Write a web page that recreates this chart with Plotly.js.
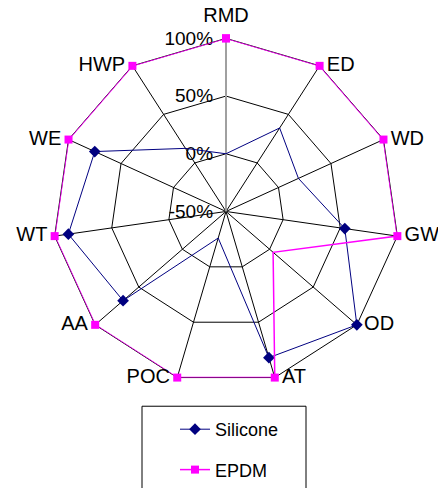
<!DOCTYPE html>
<html>
<head>
<meta charset="utf-8">
<script src="https://cdn.plot.ly/plotly-3.0.1.min.js"></script>
<style>html,body{margin:0;padding:0;background:#fff;}#chart{width:438px;height:488px;}</style>
</head>
<body>
<div id="chart"></div>
<script>
const categories = ["RMD", "ED", "WD", "GW", "OD", "AT", "POC", "AA", "WT", "WE", "HWP"];
const siliconeValues = [0, 36, 19, 54, 100, 82, -26, 68, 88, 75, 15];
const epdmValues = [100, 100, 100, 100, 4, 100, 100, 100, 100, 100, 100];
const radialTickVals = [-50, 0, 50, 100];
const radialTickText = ["-50%", "0%", "50%", "100%"];

function closeLoop(arr) { return arr.concat([arr[0]]); }

const W = 438, H = 488;
const cx = 226, cy = 215, R = 176;
const rMax = radialTickVals[radialTickVals.length - 1];
const labelPositions = ["top center", "middle right", "middle right", "middle right", "middle right",
  "middle right", "middle left", "middle left", "middle left", "middle left", "middle left"];
const labelOffsets = categories.map((c, i) => i === 0 ? 16 : 10);
const NBSP = "\u00a0";

const traces = [
  {
    type: "scatterpolar", mode: "lines+markers", name: "Silicone",
    r: closeLoop(siliconeValues), theta: closeLoop(categories),
    line: {color: "#000080", width: 1},
    marker: {symbol: "diamond", size: 9, color: "#000080"},
    legendgroup: "a", hoverinfo: "none"
  },
  {
    type: "scatterpolar", mode: "lines+markers", name: "EPDM",
    r: closeLoop(epdmValues), theta: closeLoop(categories),
    line: {color: "#ff00ff", width: 1.5},
    marker: {symbol: "square", size: 8, color: "#ff00ff"},
    legendgroup: "b", hoverinfo: "none"
  },
  {
    type: "scatterpolar", mode: "markers+text", showlegend: false, hoverinfo: "none",
    r: categories.map(() => rMax), theta: categories, text: categories,
    textposition: labelPositions,
    textfont: {family: "Liberation Sans, Arial, sans-serif", size: 20, color: "#000000"},
    marker: {size: labelOffsets, color: "rgba(0,0,0,0)", opacity: 0}, cliponaxis: false
  }
];

const layout = {
  width: W, height: H,
  margin: {l: 0, r: 0, t: 0, b: 0, pad: 0},
  paper_bgcolor: "#ffffff",
  font: {family: "Liberation Sans, Arial, sans-serif", size: 18, color: "#000000"},
  showlegend: true,
  legend: {
    x: 175 / W, xanchor: "left", y: 1 - 418 / H, yanchor: "top",
    borderwidth: 0, bgcolor: "rgba(0,0,0,0)",
    font: {size: 18}, tracegroupgap: 14
  },
  shapes: [{
    type: "rect", xref: "paper", yref: "paper",
    x0: 142 / W, x1: 306 / W, y0: -0.1, y1: 1 - 413 / H,
    line: {color: "#000000", width: 1}, fillcolor: "rgba(0,0,0,0)", layer: "below"
  }],
  polar: {
    domain: {x: [(cx - R) / W, (cx + R) / W], y: [1 - (cy + R) / H, 1 - (cy - R) / H]},
    bgcolor: "#ffffff",
    gridshape: "linear",
    radialaxis: {
      range: [-50, 100], angle: 90, side: "counterclockwise", tickangle: 90,
      tickvals: radialTickVals, ticktext: radialTickText.map(t => t + NBSP), ticks: "",
      showline: true, linecolor: "#a0a0a0", linewidth: 2,
      showgrid: true, gridcolor: "#000000", gridwidth: 1,
      tickfont: {size: 19}, layer: "below traces"
    },
    angularaxis: {
      direction: "clockwise", rotation: 90, ticks: "", showticklabels: false,
      showline: true, linecolor: "#000000", linewidth: 1,
      gridcolor: "#000000", gridwidth: 1, layer: "below traces"
    }
  }
};

Plotly.newPlot("chart", traces, layout, {displayModeBar: false, staticPlot: true});
</script>
</body>
</html>
